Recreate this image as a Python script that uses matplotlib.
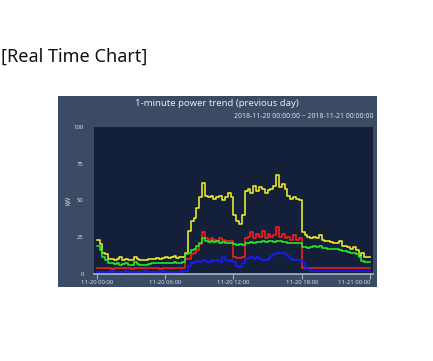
import matplotlib as mpl
import matplotlib.pyplot as plt
import numpy as np
from matplotlib.patches import Rectangle

# time of day in hours, sampled every 15 minutes (11-20 00:00 .. 11-21 00:00)
HOURS = np.arange(97) * 0.25

YELLOW = [
    23, 20, 14, 13, 10, 10, 9.5, 10, 11, 9.5, 10, 9.5, 9, 11, 10, 9,
    9, 9.5, 10, 10, 10, 10.5, 10, 10.5, 11, 10.5, 11, 12, 10.5, 11, 11.5, 14,
    29, 36, 38, 45, 52, 62, 53, 52, 53, 51, 52, 53, 50, 52, 55, 52,
    40, 36, 34, 40, 56, 58, 55, 60, 56, 59, 58, 55, 57, 58, 60, 67,
    59, 61, 58, 53, 51, 52, 51, 50, 28, 26, 25, 24, 25, 24, 26, 23,
    22.5, 22, 21.5, 21, 20.5, 22, 19, 18.5, 18, 16.5, 18, 16, 12, 14, 11, 11.5,
    11,
]
GREEN = [
    19, 16, 11, 9, 7, 7, 6.5, 7, 6, 6.5, 7, 6, 6, 8, 6.5, 6,
    6, 6, 6.5, 7, 7, 7, 7.5, 7, 7.5, 7, 7.5, 8, 7.5, 7.5, 8, 13,
    14, 16, 17, 19, 21, 24, 22, 21.5, 22, 21.5, 22, 21, 21.5, 21, 21, 21,
    20, 19.5, 20, 19.5, 21, 21, 21.5, 21, 21.5, 21.5, 22, 21.5, 22, 22, 21.5, 22,
    22, 21.5, 21.5, 21, 21, 20.5, 20.5, 20.5, 18, 18, 17.5, 18, 18.5, 18, 18.5, 17.5,
    17.5, 17, 17, 16.5, 16.5, 16, 15.5, 15.5, 15, 14, 14, 13.5, 11, 8.5, 8, 8,
    8,
]
RED = [
    3.5, 3.5, 3.6, 3.5, 3.5, 3.4, 3.5, 3.5, 3.6, 3.5, 3.5, 3.5, 3.4, 3.5, 3.5, 3.6,
    3.5, 3.5, 3.5, 3.6, 3.5, 3.5, 3.4, 3.5, 3.5, 3.5, 3.6, 3.5, 3.5, 3.5, 3.5, 10,
    10, 13, 14, 16, 20, 28, 24, 23, 24, 23, 22.5, 24, 23, 22, 22, 22,
    11, 10.5, 10.5, 11, 24, 25, 28, 24, 27, 25, 29, 24, 27, 25, 26, 32,
    25, 27, 24, 25, 23, 26, 23, 24, 3.7, 3.6, 3.5, 3.6, 3.5, 3.5, 3.6, 3.5,
    3.5, 3.6, 3.5, 3.5, 3.6, 3.5, 3.5, 3.6, 3.5, 3.5, 3.6, 3.5, 3.5, 3.6, 3.5, 3.5,
    3.5,
]
BLUE = [
    1, 1, 1, 1, 1, 1.5, 1, 1, 1, 1, 1.5, 1, 1, 1, 1, 1,
    1, 1.5, 1, 1, 1, 1, 1, 1.5, 1, 1, 1, 1, 1, 1, 1.5, 2,
    5, 7, 8, 8.5, 8, 9, 8.5, 8, 9, 8.5, 9, 8, 11, 9, 8.5, 9,
    8, 5, 4.5, 7, 10, 10.5, 11, 10, 11, 10, 9, 9.5, 10, 12, 13, 14,
    14, 14, 13.5, 12, 10, 9, 9, 9, 8, 4, 3, 2, 1.5, 1.5, 1.5, 1.5,
    1.5, 1.5, 1.5, 1.5, 1.5, 1.5, 1.5, 1.5, 1.5, 1.5, 1.5, 1.5, 1.5, 1.5, 1.5, 2,
    2,
]

X_TICKS = [0, 6, 12, 18, 24]
X_TICK_LABELS = ["11-20 00:00", "11-20 06:00", "11-20 12:00", "11-20 18:00", "11-21 00:00"]
Y_TICKS = [0, 25, 50, 75, 100]

PANEL_BG = "#3b4b64"
PLOT_BG = "#14203a"
TEXT_LIGHT = "#d8dee8"


def configure_style() -> None:
    mpl.rcParams.update(
        {
            "font.family": ["Noto Sans", "DejaVu Sans"],
            "axes.linewidth": 1.0,
        }
    )


def main() -> None:
    configure_style()
    W, H = 433, 361
    fig = plt.figure(figsize=(W / 100, H / 100), dpi=100)
    fig.patch.set_facecolor("white")

    fig.text(1 / W, 1 - 57 / H, "[Real Time Chart]", ha="left", va="center",
             fontsize=13, color="#111111")

    # chart panel, kept behind the axes
    panel = Rectangle((58 / W, 1 - 287 / H), (377 - 58) / W, (287 - 96) / H,
                      transform=fig.transFigure, facecolor=PANEL_BG,
                      edgecolor="none", zorder=-5)
    fig.patches.append(panel)
    fig.text(217 / W, 1 - 103 / H, "1-minute power trend (previous day)",
             ha="center", va="center", fontsize=6.9, color="#e6eaf0")
    fig.text(373 / W, 1 - 116 / H, "2018-11-20 00:00:00 ~ 2018-11-21 00:00:00",
             ha="right", va="center", fontsize=5.0, color=TEXT_LIGHT)

    ax = fig.add_axes([93.5 / W, 1 - 273.5 / H, (373 - 93.5) / W, (273.5 - 127) / H])
    ax.set_zorder(1)
    ax.set_facecolor(PLOT_BG)

    lw = 1.15
    ax.plot(HOURS, RED, color="#ff1e1e", lw=lw, drawstyle="steps-post", zorder=3)
    ax.plot(HOURS, YELLOW, color="#eeee2a", lw=lw, drawstyle="steps-post", zorder=4)
    ax.plot(HOURS, GREEN, color="#22ee22", lw=lw, drawstyle="steps-post", zorder=5)
    ax.plot(HOURS, BLUE, color="#1a1aff", lw=lw, drawstyle="steps-post", zorder=6)

    ax.set_xlim(-0.28, 24.26)
    ax.set_ylim(0, 100)
    ax.set_xticks(X_TICKS)
    ax.set_xticklabels(X_TICK_LABELS)
    ax.set_yticks(Y_TICKS)
    ax.set_yticklabels([str(v) for v in Y_TICKS])

    for side in ("top", "right", "left"):
        ax.spines[side].set_visible(False)
    ax.spines["bottom"].set_color("#a9b6c8")
    ax.spines["bottom"].set_linewidth(1.2)

    ax.tick_params(axis="x", direction="out", length=3.5, width=0.8, color="#a9b6c8",
                   labelsize=4.3, labelcolor=TEXT_LIGHT, pad=1.5)
    ax.tick_params(axis="y", length=0, labelsize=4.3, labelcolor=TEXT_LIGHT, pad=7)

    # last label is pulled inside the panel, as the source chart does
    last = ax.get_xticklabels()[-1]
    last.set_horizontalalignment("right")
    last.set_x(24.2)

    ax.set_ylabel("kW", fontsize=4.5, color=TEXT_LIGHT, labelpad=1)

    fig.savefig("out.png", dpi=100, facecolor="white")
    plt.close(fig)


if __name__ == "__main__":
    main()
